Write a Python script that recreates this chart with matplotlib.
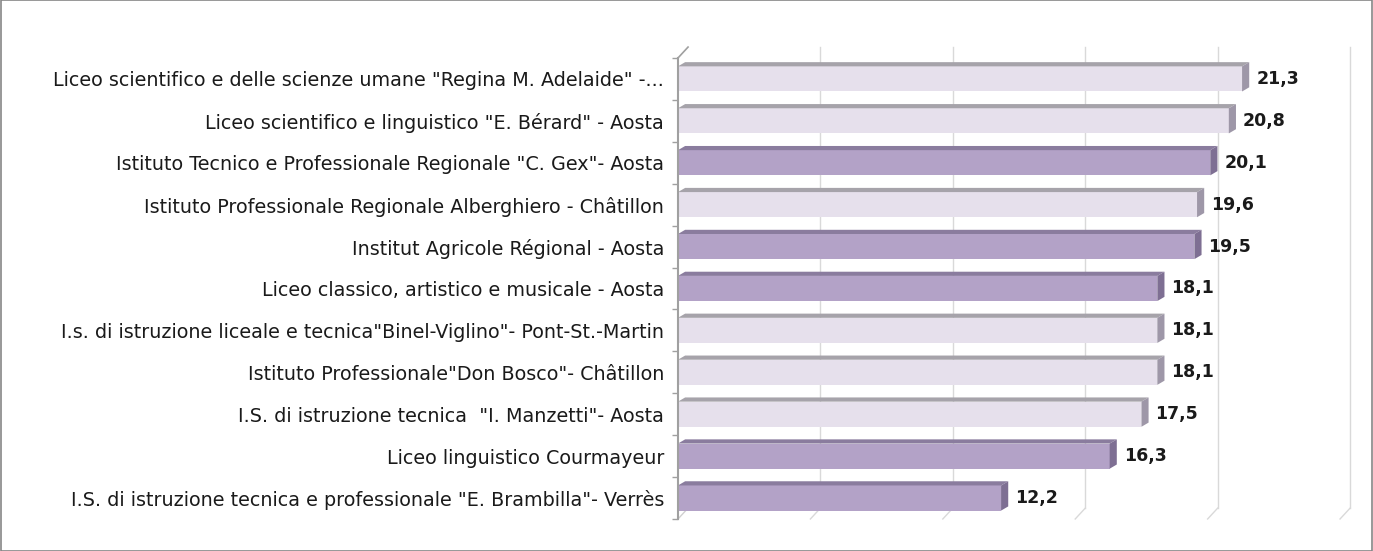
import matplotlib
matplotlib.use("Agg")
import matplotlib.pyplot as plt
from matplotlib.patches import Polygon, Rectangle

categories = [
    'Liceo scientifico e delle scienze umane "Regina M. Adelaide" -...',
    'Liceo scientifico e linguistico "E. Bérard" - Aosta',
    'Istituto Tecnico e Professionale Regionale "C. Gex"- Aosta',
    'Istituto Professionale Regionale Alberghiero - Châtillon',
    'Institut Agricole Régional - Aosta',
    'Liceo classico, artistico e musicale - Aosta',
    'I.s. di istruzione liceale e tecnica"Binel-Viglino"- Pont-St.-Martin',
    'Istituto Professionale"Don Bosco"- Châtillon',
    'I.S. di istruzione tecnica  "I. Manzetti"- Aosta',
    'Liceo linguistico Courmayeur',
    'I.S. di istruzione tecnica e professionale "E. Brambilla"- Verrès',
]
values = [21.3, 20.8, 20.1, 19.6, 19.5, 18.1, 18.1, 18.1, 17.5, 16.3, 12.2]
value_labels = ["21,3", "20,8", "20,1", "19,6", "19,5", "18,1", "18,1", "18,1", "17,5", "16,3", "12,2"]
dark = [False, False, True, False, True, True, False, False, False, True, True]
grid_values = [5, 10, 15, 20, 25]

LIGHT = "#E6E0EC"
LIGHT_TOP = "#A6A3AA"
LIGHT_SIDE = "#9E97A8"
DARK = "#B3A2C7"
DARK_TOP = "#8A7C9E"
DARK_SIDE = "#7E6F93"

fig = plt.figure(figsize=(13.73, 5.51), dpi=100)
fig.patch.set_facecolor("white")
fig.patches.append(Rectangle((0.0004, 0.0009), 0.9992, 0.9982, transform=fig.transFigure,
                             fill=False, edgecolor="#868686", linewidth=1.2))

ax = fig.add_axes([0.4938, 0.0581, 0.4822, 0.8367])
n = len(categories)
ax.set_xlim(0, 25)
ax.set_ylim(n - 0.5, -0.5)
for s in ax.spines.values():
    s.set_visible(False)

# 3D depth offsets (data units)
wdx, wdy = 0.38, 0.26   # walls
bdx, bdy = 0.27, 0.10   # bars
h = 0.6

top = -0.5
bot = n - 0.5
for g in grid_values:
    ax.plot([g + wdx, g + wdx], [top - wdy, bot - wdy], color="#D9D9D9", lw=1.0, clip_on=False, zorder=0)
    ax.plot([g, g + wdx], [bot, bot - wdy], color="#D9D9D9", lw=1.0, clip_on=False, zorder=0)

ax.plot([0, 0], [top, bot], color="#A0A0A0", lw=1.5, clip_on=False, zorder=3)
ax.plot([0, wdx], [top, top - wdy], color="#A0A0A0", lw=1.2, clip_on=False, zorder=3)
ax.plot([0, wdx], [bot, bot - wdy], color="#D0D0D0", lw=1.0, clip_on=False, zorder=0)

ypos = list(range(n))
front_cols = [DARK if d else LIGHT for d in dark]
ax.barh(ypos, values, height=h, color=front_cols, edgecolor="none", zorder=2)
for i, (v, d) in enumerate(zip(values, dark)):
    yt = i - h / 2
    yb = i + h / 2
    top_poly = Polygon([(0, yt), (v, yt), (v + bdx, yt - bdy), (bdx, yt - bdy)], closed=True,
                       facecolor=DARK_TOP if d else LIGHT_TOP, edgecolor="none", zorder=2, clip_on=False)
    side_poly = Polygon([(v, yt), (v, yb), (v + bdx, yb - bdy), (v + bdx, yt - bdy)], closed=True,
                        facecolor=DARK_SIDE if d else LIGHT_SIDE, edgecolor="none", zorder=2, clip_on=False)
    ax.add_patch(top_poly)
    ax.add_patch(side_poly)
    ax.annotate(value_labels[i], xy=(v + bdx, i), xytext=(5, 0), textcoords="offset points",
                ha="left", va="center", fontsize=12.5, fontweight="bold", color="#1a1a1a")

ax.set_xticks([])
ax.set_yticks(ypos)
ax.set_yticklabels(categories, fontsize=13.8, color="#1a1a1a")
ax.tick_params(axis="y", which="major", length=0, pad=10)
ax.set_yticks([k - 0.5 for k in range(n + 1)], minor=True)
ax.tick_params(axis="y", which="minor", length=4, color="#A0A0A0", width=1)

fig.savefig("out.png", dpi=100, facecolor="white")
